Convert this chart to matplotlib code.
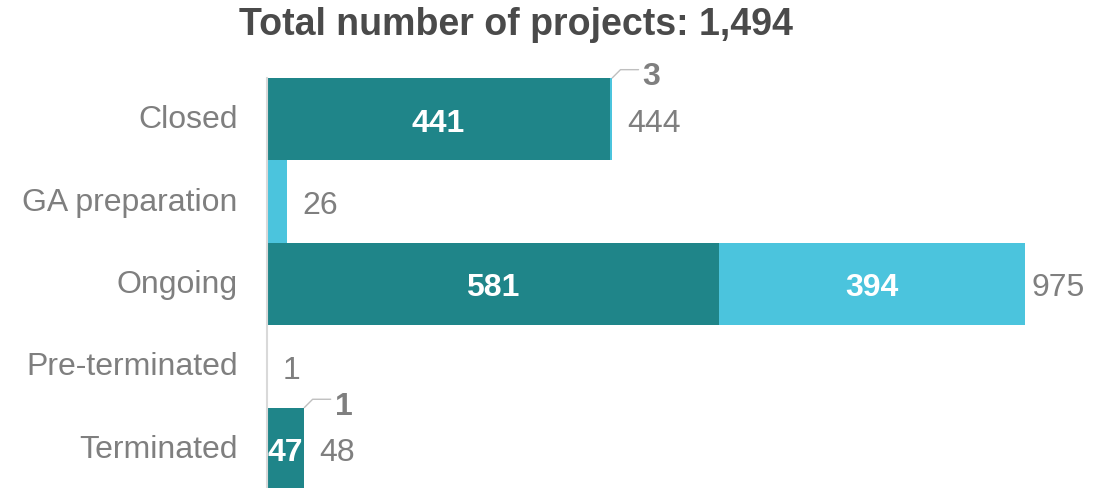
import matplotlib
matplotlib.use("Agg")
import matplotlib.pyplot as plt

categories = ["Closed", "GA preparation", "Ongoing", "Pre-terminated", "Terminated"]
dark_values = [441, 0, 581, 0, 47]
light_values = [3, 26, 394, 1, 1]
title = "Total number of projects: 1,494"

DARK = "#1f8589"
LIGHT = "#4bc4dd"
GRAY = "#7f7f7f"
FS = 23

plt.rcParams['font.family'] = ['Liberation Sans', 'DejaVu Sans']

fig = plt.figure(figsize=(11.06, 4.89), dpi=100)
ax = fig.add_axes([267/1106, -2/489, 1 - 267/1106, (489 - 77) / 489])

y = list(range(len(categories)))
ax.barh(y, dark_values, height=1.0, color=DARK, linewidth=0)
ax.barh(y, light_values, left=dark_values, height=1.0, color=LIGHT, linewidth=0)

ax.set_xlim(0, (1106 - 267) / 0.7774)
ax.set_ylim(4.5, -0.5)
ax.set_yticks(y)
ax.set_yticklabels(categories, fontsize=FS, color=GRAY, va='center')
ax.tick_params(axis='y', length=0, pad=21)
ax.set_xticks([])
for s in ['top', 'right', 'bottom']:
    ax.spines[s].set_visible(False)
ax.spines['left'].set_color('#d9d9d9')
ax.spines['left'].set_linewidth(1.5)

for i, (d, l) in enumerate(zip(dark_values, light_values)):
    total = d + l
    if d > 0:
        ax.text(d / 2, i, f"{d}", ha='center', va='center_baseline', color='white',
                fontsize=FS, fontweight='bold')
    if l > 0:
        frac_px = l * 0.7774
        if frac_px > 60:
            ax.text(d + l / 2, i, f"{l}", ha='center', va='center_baseline', color='white',
                    fontsize=FS, fontweight='bold')
        elif d > 0:
            ax.annotate(f"{l}", xy=(total, i - 0.5), xytext=(22, 4),
                        textcoords='offset points', ha='left', va='center_baseline',
                        fontsize=FS, fontweight='bold', color=GRAY)
            ax.annotate("", xy=(total, i - 0.5), xytext=(19, 6),
                        textcoords='offset points',
                        arrowprops=dict(arrowstyle='-', color='#bfbfbf', lw=1,
                                        connectionstyle='angle,angleA=0,angleB=45,rad=0',
                                        shrinkA=0, shrinkB=0))
    off = 5 if total > 900 else 11
    ax.annotate(f"{total}", xy=(total, i), xytext=(off, 0), textcoords='offset points',
                ha='left', va='center_baseline', fontsize=FS, color=GRAY)

fig.text(516 / 1106, 1 - 21 / 489, title, ha='center', va='center_baseline',
         fontsize=27, fontweight='bold', color='#4a4a4a')

fig.savefig("out.png", dpi=100)
